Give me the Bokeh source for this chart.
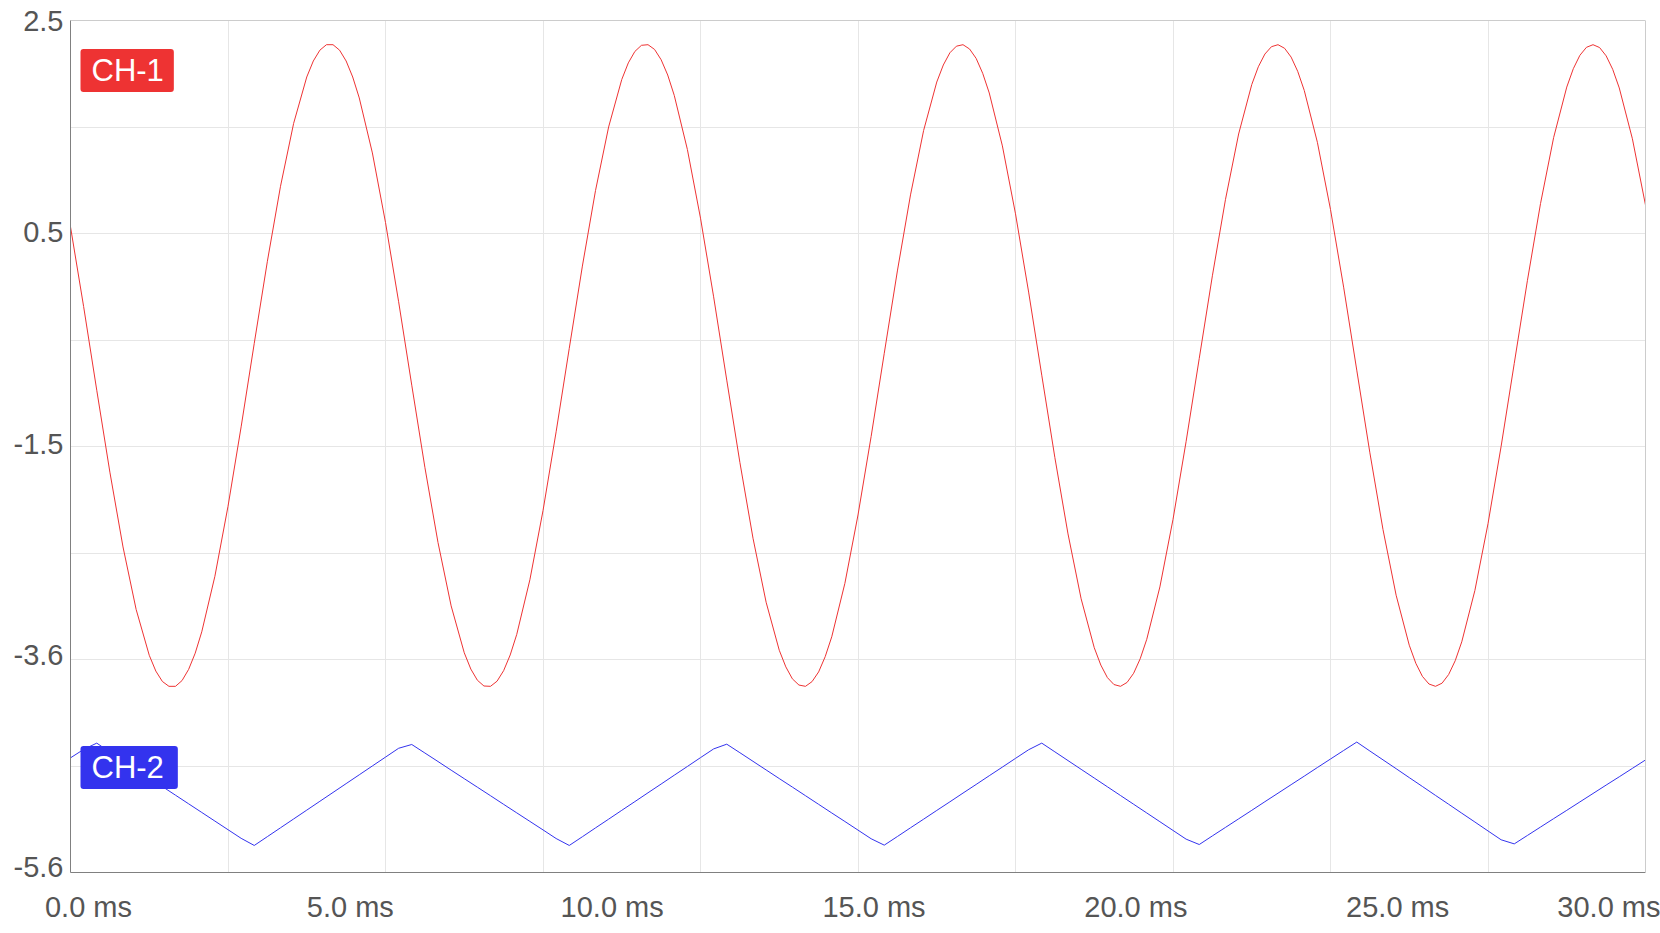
from bokeh.plotting import figure
from bokeh.models import (ColumnDataSource, LinearAxis, Grid, FixedTicker,
                          Label, Range1d, Span, BoxAnnotation)
from bokeh.embed import file_html
from bokeh.resources import INLINE

# ---------------- data ----------------
# CH-1 (red, sine-like) sample times and values
ch1_time = [
    0.0, 0.25, 0.5, 0.75, 1.0, 1.25, 1.5, 1.625, 1.75, 1.875, 2.0, 2.125, 2.25, 2.375,
    2.5, 2.75, 3.0, 3.25, 3.5, 3.75, 4.0, 4.25, 4.5, 4.625, 4.75, 4.875, 5.0, 5.125,
    5.25, 5.375, 5.5, 5.75, 6.0, 6.25, 6.5, 6.75, 7.0, 7.25, 7.5, 7.625, 7.75, 7.875,
    8.0, 8.125, 8.25, 8.375, 8.5, 8.75, 9.0, 9.25, 9.5, 9.75, 10.0, 10.25, 10.5, 10.625,
    10.75, 10.875, 11.0, 11.125, 11.25, 11.375, 11.5, 11.75, 12.0, 12.25, 12.5, 12.75,
    13.0, 13.25, 13.5, 13.625, 13.75, 13.875, 14.0, 14.125, 14.25, 14.375, 14.5, 14.75,
    15.0, 15.25, 15.5, 15.75, 16.0, 16.25, 16.5, 16.625, 16.75, 16.875, 17.0, 17.125,
    17.25, 17.375, 17.5, 17.75, 18.0, 18.25, 18.5, 18.75, 19.0, 19.25, 19.5, 19.625,
    19.75, 19.875, 20.0, 20.125, 20.25, 20.375, 20.5, 20.75, 21.0, 21.25, 21.5, 21.75,
    22.0, 22.25, 22.5, 22.625, 22.75, 22.875, 23.0, 23.125, 23.25, 23.375, 23.5, 23.75,
    24.0, 24.25, 24.5, 24.75, 25.0, 25.25, 25.5, 25.625, 25.75, 25.875, 26.0, 26.125,
    26.25, 26.375, 26.5, 26.75, 27.0, 27.25, 27.5, 27.75, 28.0, 28.25, 28.5, 28.625,
    28.75, 28.875, 29.0, 29.125, 29.25, 29.375, 29.5, 29.75, 30.0,
]
ch1 = [
    0.538, -0.220, -1.015, -1.794, -2.505, -3.099, -3.535, -3.685, -3.784, -3.830, -3.830, -3.775, -3.669, -3.515,
    -3.312, -2.784, -2.119, -1.363, -0.569, 0.211, 0.924, 1.522, 1.963, 2.115, 2.218, 2.270, 2.270, 2.218,
    2.115, 1.963, 1.764, 1.241, 0.580, -0.174, -0.967, -1.748, -2.463, -3.065, -3.511, -3.666, -3.772, -3.827,
    -3.830, -3.781, -3.681, -3.532, -3.336, -2.817, -2.160, -1.410, -0.617, 0.165, 0.883, 1.488, 1.939, 2.097,
    2.206, 2.264, 2.270, 2.225, 2.127, 1.982, 1.788, 1.274, 0.621, -0.127, -0.919, -1.701,
    -2.422, -3.031, -3.487, -3.645, -3.759, -3.818, -3.830, -3.785, -3.693, -3.548, -3.359, -2.851,
    -2.201, -1.455, -0.664, 0.119, 0.842, 1.455, 1.915, 2.077, 2.193, 2.256, 2.270, 2.229,
    2.140, 1.998, 1.811, 1.308, 0.662, -0.082, -0.872, -1.656, -2.381, -2.998, -3.463, -3.628,
    -3.747, -3.813, -3.830, -3.793, -3.706, -3.568, -3.383, -2.885, -2.243, -1.501, -0.712, 0.073,
    0.800, 1.421, 1.891, 2.060, 2.181, 2.251, 2.270, 2.236, 2.152, 2.017, 1.835, 1.342,
    0.703, -0.035, -0.824, -1.610, -2.340, -2.964, -3.439, -3.611, -3.735, -3.808, -3.830, -3.800,
    -3.718, -3.587, -3.407, -2.919, -2.284, -1.548, -0.760, 0.026, 0.759, 1.387, 1.867, 2.042,
    2.169, 2.245, 2.270, 2.243, 2.164, 2.036, 1.859, 1.376, 0.745,
]

# CH-2 (blue, triangle-like) sample times and values
ch2_time = [
    0.0, 0.25, 0.5, 0.75, 1.0, 1.25, 1.5, 1.75, 2.0, 2.25, 2.5, 2.75,
    3.0, 3.25, 3.5, 3.75, 4.0, 4.25, 4.5, 4.75, 5.0, 5.25, 5.5, 5.75,
    6.0, 6.25, 6.5, 6.75, 7.0, 7.25, 7.5, 7.75, 8.0, 8.25, 8.5, 8.75,
    9.0, 9.25, 9.5, 9.75, 10.0, 10.25, 10.5, 10.75, 11.0, 11.25, 11.5, 11.75,
    12.0, 12.25, 12.5, 12.75, 13.0, 13.25, 13.5, 13.75, 14.0, 14.25, 14.5, 14.75,
    15.0, 15.25, 15.5, 15.75, 16.0, 16.25, 16.5, 16.75, 17.0, 17.25, 17.5, 17.75,
    18.0, 18.25, 18.5, 18.75, 19.0, 19.25, 19.5, 19.75, 20.0, 20.25, 20.5, 20.75,
    21.0, 21.25, 21.5, 21.75, 22.0, 22.25, 22.5, 22.75, 23.0, 23.25, 23.5, 23.75,
    24.0, 24.25, 24.5, 24.75, 25.0, 25.25, 25.5, 25.75, 26.0, 26.25, 26.5, 26.75,
    27.0, 27.25, 27.5, 27.75, 28.0, 28.25, 28.5, 28.75, 29.0, 29.25, 29.5, 29.75,
    30.0,
]
ch2 = [
    -4.510, -4.430, -4.370, -4.455, -4.537, -4.619, -4.701, -4.783, -4.865, -4.947,
    -5.029, -5.111, -5.193, -5.275, -5.343, -5.259, -5.175, -5.091, -5.007, -4.923,
    -4.839, -4.755, -4.671, -4.587, -4.503, -4.419, -4.383, -4.464, -4.545, -4.627,
    -4.708, -4.789, -4.870, -4.952, -5.033, -5.114, -5.195, -5.277, -5.343, -5.260,
    -5.176, -5.093, -5.009, -4.926, -4.842, -4.759, -4.675, -4.592, -4.508, -4.425,
    -4.380, -4.461, -4.543, -4.625, -4.707, -4.788, -4.870, -4.952, -5.034, -5.115,
    -5.197, -5.279, -5.340, -5.258, -5.175, -5.093, -5.010, -4.928, -4.845, -4.763,
    -4.680, -4.598, -4.515, -4.433, -4.370, -4.453, -4.536, -4.619, -4.702, -4.785,
    -4.868, -4.951, -5.034, -5.117, -5.200, -5.283, -5.334, -5.252, -5.171, -5.090,
    -5.009, -4.927, -4.846, -4.765, -4.684, -4.602, -4.521, -4.440, -4.360, -4.445,
    -4.529, -4.613, -4.698, -4.782, -4.867, -4.951, -5.036, -5.120, -5.205, -5.289,
    -5.328, -5.248, -5.168, -5.088, -5.009, -4.929, -4.849, -4.769, -4.690, -4.610,
    -4.530,
]

x_label_values = [0, 5, 10, 15, 20, 25, 30]
x_label_texts = ["0.0 ms", "5.0 ms", "10.0 ms", "15.0 ms", "20.0 ms", "25.0 ms", "30.0 ms"]
y_label_values = [2.5, 0.475, -1.55, -3.575, -5.6]
y_label_texts = ["2.5", "0.5", "-1.5", "-3.6", "-5.6"]
x_grid_values = [0, 3, 6, 9, 12, 15, 18, 21, 24, 27, 30]
y_grid_values = [2.5, 1.4875, 0.475, -0.5375, -1.55, -2.5625, -3.575, -4.5875, -5.6]
channel_names = ["CH-1", "CH-2"]

X_MIN, X_MAX = 0, 30
Y_MIN, Y_MAX = -5.6, 2.5

# ---------------- styles / layout ----------------
channel_colors = ["#ee3333", "#3333ee"]
badge_y_offsets = [-50, -747]
badge_pad_right = [10, 14]
FONT = "Liberation Sans"
FONT_SIZE = "29px"
TEXT_GRAY = "#555555"
AXIS_GRAY = "#808080"
BORDER_LIGHT = "#cccccc"
GRID_COLOR = "#e6e6e6"

W, H = 1660, 925                 # canvas
VIS_L, VIS_R = 70, 1645          # visible plot box (page px)
BT, BB = 20, 52                  # top / bottom borders
FRAME_H = H - BT - BB
LBL_FIRST_PX = VIS_L + 18        # centre of the first x label
LBL_LAST_PX = W - 1              # centre of the last x label
Y_LBL_RAISE_PX = 6               # y labels sit a little above their value

# The Bokeh frame runs to the canvas edge so the last label can be drawn;
# the visible plot box ends at X_MAX and the strip beyond it is masked.
px_per_ms = (VIS_R - VIS_L) / (X_MAX - X_MIN)
x_end = X_MAX + (W - VIS_R) / px_per_ms

lbl_px = (LBL_LAST_PX - LBL_FIRST_PX) / (x_label_values[-1] - x_label_values[0])
lbl_start = x_label_values[0] - (LBL_FIRST_PX - VIS_L) / lbl_px
lbl_end = lbl_start + (W - VIS_L) / lbl_px
lbl_vis_end = lbl_start + (VIS_R - VIS_L) / lbl_px

r = Y_LBL_RAISE_PX / FRAME_H
ylbl_start = (Y_MIN - Y_MAX * r) / (1 - r)

# ---------------- figure ----------------
p = figure(width=W, height=H, output_backend="svg", toolbar_location=None,
           x_range=Range1d(X_MIN, x_end), y_range=Range1d(Y_MIN, Y_MAX),
           x_axis_type=None, y_axis_type=None,
           min_border_left=VIS_L, min_border_right=0,
           min_border_top=BT, min_border_bottom=BB)
p.background_fill_color = "white"
p.border_fill_color = "white"
p.outline_line_color = None

# grids
p.add_layout(Grid(dimension=0, ticker=FixedTicker(ticks=x_grid_values),
                  grid_line_color=GRID_COLOR, grid_line_width=1))
p.add_layout(Grid(dimension=1, ticker=FixedTicker(ticks=y_grid_values),
                  grid_line_color=GRID_COLOR, grid_line_width=1))

# left axis: line + tick labels
p.extra_y_ranges = {"ylbl": Range1d(ylbl_start, Y_MAX)}
yax = LinearAxis(y_range_name="ylbl", ticker=FixedTicker(ticks=y_label_values),
                 major_label_overrides=dict(zip(y_label_values, y_label_texts)),
                 axis_line_color=AXIS_GRAY, axis_line_width=1,
                 major_tick_line_color=None, minor_tick_line_color=None,
                 major_tick_in=0, major_tick_out=0, major_label_standoff=7,
                 major_label_text_font=FONT, major_label_text_font_size=FONT_SIZE,
                 major_label_text_color=TEXT_GRAY)
p.add_layout(yax, "left")

# bottom axis: line (up to X_MAX) + labels, on the label range
p.extra_x_ranges = {"lbl": Range1d(lbl_start, lbl_end)}
xax = LinearAxis(x_range_name="lbl", ticker=FixedTicker(ticks=x_label_values),
                 major_label_overrides=dict(zip(x_label_values, x_label_texts)),
                 bounds=(lbl_start, lbl_vis_end),
                 axis_line_color=AXIS_GRAY, axis_line_width=1,
                 major_tick_line_color=None, minor_tick_line_color=None,
                 major_tick_in=0, major_tick_out=0, major_label_standoff=18,
                 major_label_text_font=FONT, major_label_text_font_size=FONT_SIZE,
                 major_label_text_color=TEXT_GRAY)
p.add_layout(xax, "below")

# top border (light) up to X_MAX
tax = LinearAxis(ticker=FixedTicker(ticks=[]), bounds=(X_MIN, X_MAX),
                 axis_line_color=BORDER_LIGHT, axis_line_width=1,
                 major_tick_line_color=None, minor_tick_line_color=None,
                 major_tick_in=0, major_tick_out=0,
                 major_label_text_font_size="0px")
p.add_layout(tax, "above")

# traces
src1 = ColumnDataSource(dict(t=ch1_time, v=ch1))
src2 = ColumnDataSource(dict(t=ch2_time, v=ch2))
p.line("t", "v", source=src1, line_color=channel_colors[0], line_width=1,
       line_join="round")
p.line("t", "v", source=src2, line_color=channel_colors[1], line_width=1,
       line_join="round")

# mask the strip right of the plot box, then draw the right border
p.add_layout(BoxAnnotation(left=X_MAX, fill_color="white", fill_alpha=1.0,
                           line_color=None, level="overlay"))
p.add_layout(Span(location=X_MAX, dimension="height", line_color=BORDER_LIGHT,
                  line_width=1, level="overlay"))

# channel badges
for name, color, yoff, pr in zip(channel_names, channel_colors,
                                 badge_y_offsets, badge_pad_right):
    p.add_layout(Label(x=X_MIN, y=Y_MAX, x_offset=10, y_offset=yoff,
                       text=name, text_font=FONT, text_font_size="31px",
                       text_color="white", text_align="left",
                       text_baseline="middle",
                       background_fill_color=color, border_line_color=None,
                       padding=dict(left=11, right=pr, top=4, bottom=4),
                       border_radius=3))

open("out.html", "w").write(file_html(p, INLINE))
